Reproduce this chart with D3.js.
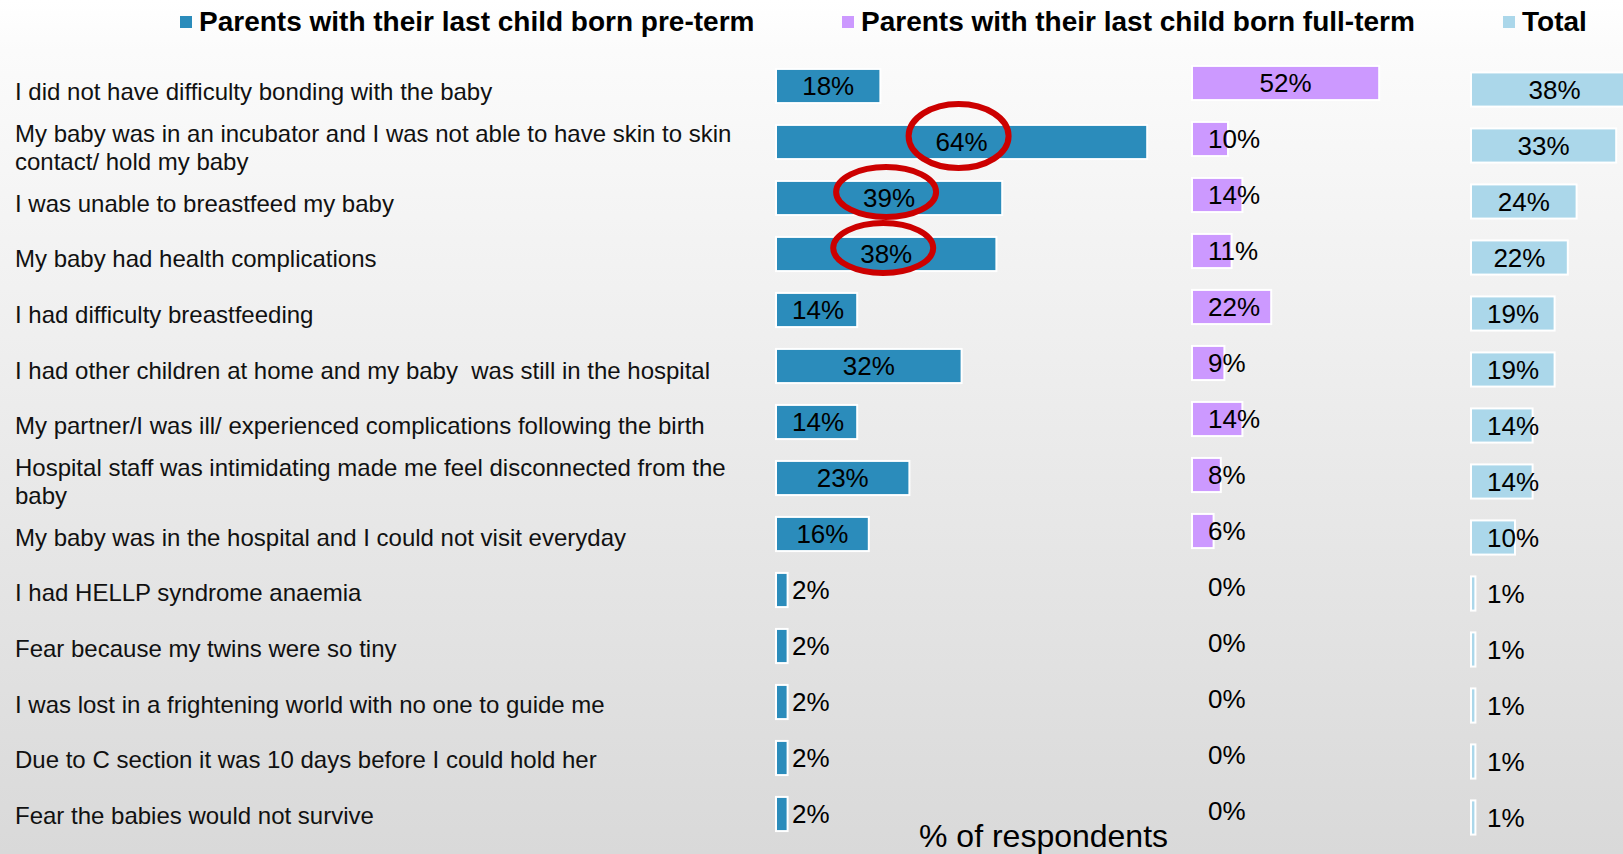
<!DOCTYPE html>
<html>
<head>
<meta charset="utf-8">
<script src="https://cdn.jsdelivr.net/npm/d3@7"></script>
<style>
  html, body { margin: 0; padding: 0; overflow: hidden; background: #fff; }
  svg { display: block; font-family: "Liberation Sans", Arial, sans-serif; }
</style>
</head>
<body>
<div id="chart"></div>
<script>
const categories = [
    "I did not have difficulty bonding with the baby",
    "My baby was in an incubator and I was not able to have skin to skin contact/ hold my baby",
    "I was unable to breastfeed my baby",
    "My baby had health complications",
    "I had difficulty breastfeeding",
    "I had other children at home and my baby  was still in the hospital",
    "My partner/I was ill/ experienced complications following the birth",
    "Hospital staff was intimidating made me feel disconnected from the baby",
    "My baby was in the hospital and I could not visit everyday",
    "I had HELLP syndrome anaemia",
    "Fear because my twins were so tiny",
    "I was lost in a frightening world with no one to guide me",
    "Due to C section it was 10 days before I could hold her",
    "Fear the babies would not survive"
];
const preTerm  = [18, 64, 39, 38, 14, 32, 14, 23, 16, 2, 2, 2, 2, 2];
const fullTerm = [52, 10, 14, 11, 22, 9, 14, 8, 6, 0, 0, 0, 0, 0];
const total    = [38, 33, 24, 22, 19, 19, 14, 14, 10, 1, 1, 1, 1, 1];
const seriesNames = [
    "Parents with their last child born pre-term",
    "Parents with their last child born full-term",
    "Total"
];
// pre-term answers circled in red on the slide
const circled = [categories[1], categories[2], categories[3]];
const axisTitle = "% of respondents";

const W = 1623, H = 854;

const svg = d3.select("#chart")
    .append("svg")
    .attr("width", W)
    .attr("height", H);

// background: light grey gradient like the slide
const grad = svg.append("defs")
    .append("linearGradient")
    .attr("id", "bg")
    .attr("x1", 0).attr("y1", 0).attr("x2", 0).attr("y2", 1);
grad.append("stop").attr("offset", "0").attr("stop-color", "#ffffff");
grad.append("stop").attr("offset", "0.06").attr("stop-color", "#fbfbfb");
grad.append("stop").attr("offset", "1").attr("stop-color", "#d9d9d9");
svg.append("rect").attr("width", W).attr("height", H).attr("fill", "url(#bg)");

// each series is its own little chart, as on the slide
const panels = [
    {name: seriesNames[0], values: preTerm,  color: "#2b8cbb", x0: 776,  pxPer: 5.8, top: 58,   legendX: 180},
    {name: seriesNames[1], values: fullTerm, color: "#cc99ff", x0: 1192, pxPer: 3.6, top: 55,   legendX: 842},
    {name: seriesNames[2], values: total,    color: "#abd7ea", x0: 1471, pxPer: 4.4, top: 61.5, legendX: 1503}
];

panels.forEach(function(p) {
    p.x = d3.scaleLinear().domain([0, 100]).range([p.x0, p.x0 + 100 * p.pxPer]);
    p.y = d3.scaleBand().domain(categories).range([p.top, p.top + 784])
        .paddingInner(0.39).paddingOuter(0.195);

    const g = svg.append("g").attr("class", "panel");

    g.selectAll("rect.bar")
        .data(p.values)
        .enter()
        .append("rect")
        .attr("class", "bar")
        .attr("x", p.x(0))
        .attr("y", (d, i) => p.y(categories[i]))
        .attr("width", d => p.x(d) - p.x(0))
        .attr("height", p.y.bandwidth())
        .attr("fill", p.color)
        .attr("stroke", "#ffffff")
        .attr("stroke-width", 2);

    g.selectAll("text.val")
        .data(p.values)
        .enter()
        .append("text")
        .attr("class", "val")
        .attr("text-anchor", "middle")
        .attr("font-size", 26)
        .attr("fill", "#000")
        .attr("y", (d, i) => p.y(categories[i]) + p.y.bandwidth() / 2)
        .attr("dy", "0.36em")
        .text(d => d + "%")
        .attr("x", function(d) {
            const tw = this.getComputedTextLength();
            const w = p.x(d) - p.x(0);
            return Math.max(p.x(0) + w / 2, p.x(0) + 16 + tw / 2);
        });

    // legend
    const lg = svg.append("g").attr("class", "legend");
    lg.append("rect")
        .attr("x", p.legendX).attr("y", 16)
        .attr("width", 12).attr("height", 12)
        .attr("fill", p.color);
    lg.append("text")
        .attr("x", p.legendX + 19).attr("y", 31)
        .attr("font-size", 28)
        .attr("font-weight", "bold")
        .attr("fill", "#000")
        .text(p.name);
});

// category labels sit in their own text column, a bit tighter than the bars
const yLab = d3.scaleBand().domain(categories).range([64, 843]);
const labels = svg.append("g").attr("class", "labels");
categories.forEach(function(c) {
    const t = labels.append("text")
        .attr("x", 15)
        .attr("font-size", 24)
        .attr("fill", "#111")
        .style("white-space", "pre");
    const words = c.split(" ");
    let lines = [], cur = [];
    const probe = t.append("tspan");
    words.forEach(function(w) {
        const next = cur.concat([w]);
        probe.text(next.join(" "));
        if (probe.node().getComputedTextLength() > 722 && cur.length) {
            lines.push(cur.join(" "));
            cur = [w];
        } else {
            cur = next;
        }
    });
    lines.push(cur.join(" "));
    probe.remove();
    const cy = yLab(c) + yLab.bandwidth() / 2;
    const lh = 28;
    lines.forEach(function(l, k) {
        t.append("tspan")
            .attr("x", 15)
            .attr("y", cy + (k - (lines.length - 1) / 2) * lh)
            .attr("dy", "0.36em")
            .text(l);
    });
});

// red circles around highlighted pre-term values
const pre = panels[0];
svg.append("g").selectAll("ellipse")
    .data(circled)
    .enter()
    .append("ellipse")
    .attr("cx", c => {
        const v = preTerm[categories.indexOf(c)];
        return pre.x(0) + (pre.x(v) - pre.x(0)) / 2 - 3;
    })
    .attr("cy", c => pre.y(c) + pre.y.bandwidth() / 2 - 6)
    .attr("rx", 50)
    .attr("ry", (c, i) => i === 0 ? 32 : 25)
    .attr("fill", "none")
    .attr("stroke", "#cc0000")
    .attr("stroke-width", 6);

svg.append("text")
    .attr("x", 919)
    .attr("y", 847)
    .attr("font-size", 32)
    .attr("fill", "#000")
    .text(axisTitle);
</script>
</body>
</html>
